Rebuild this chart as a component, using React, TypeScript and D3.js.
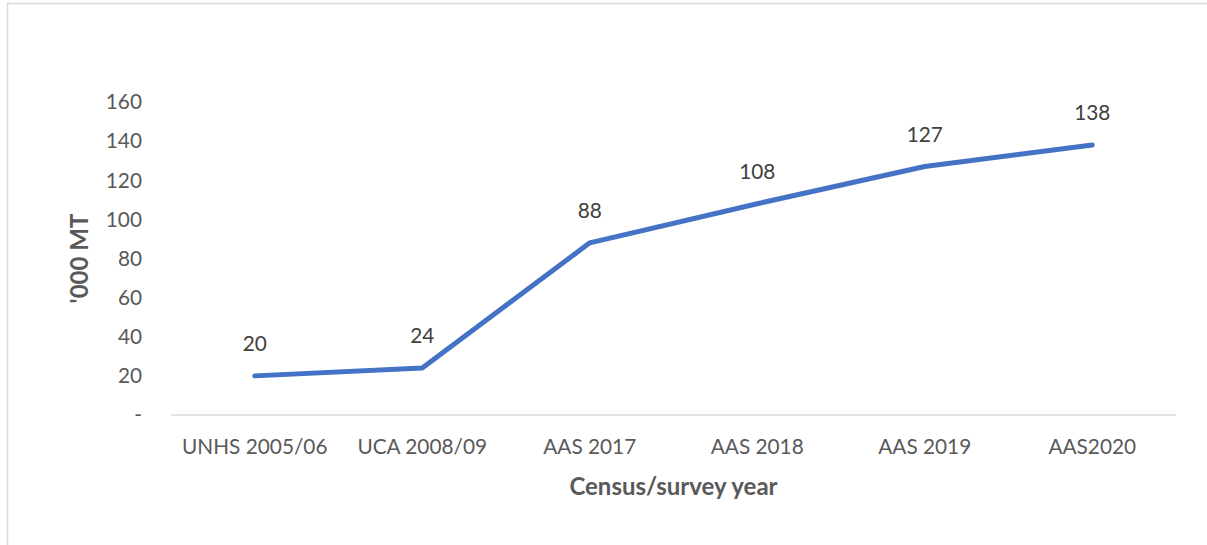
import React, { useEffect, useRef } from 'react';
import * as d3 from 'd3';

const categories = ['UNHS 2005/06', 'UCA 2008/09', 'AAS 2017', 'AAS 2018', 'AAS 2019', 'AAS2020'];
const production = [20, 24, 88, 108, 127, 138];
const yTicks = [0, 20, 40, 60, 80, 100, 120, 140, 160];

const W = 1207;
const H = 545;

const App: React.FC = () => {
  const svgRef = useRef<SVGSVGElement>(null);

  useEffect(() => {
    if (!svgRef.current) return;
    const svg = d3.select(svgRef.current);
    svg.selectAll('*').remove();

    const margin = { top: 102, right: 31, bottom: 130, left: 171 };
    const font = 'Lato, "Open Sans", sans-serif';

    // chart frame
    svg.append('rect')
      .attr('x', 7.5).attr('y', 3.5)
      .attr('width', W + 10).attr('height', H + 10)
      .attr('fill', '#fff')
      .attr('stroke', '#d9d9d9')
      .attr('stroke-width', 1.5);

    const x = d3.scaleBand<string>()
      .domain(categories)
      .range([margin.left, W - margin.right]);

    const y = d3.scaleLinear()
      .domain([0, 160])
      .range([H - margin.bottom, margin.top]);

    // y tick labels
    svg.append('g')
      .selectAll('text')
      .data(yTicks)
      .join('text')
      .attr('x', 142)
      .attr('y', (d) => y(d))
      .attr('dy', '0.35em')
      .attr('text-anchor', 'end')
      .attr('font-family', font)
      .attr('font-size', 20.8)
      .attr('fill', '#595959')
      .text((d) => (d === 0 ? '-' : String(d)));

    // x axis line
    svg.append('line')
      .attr('x1', margin.left).attr('x2', W - margin.right)
      .attr('y1', y(0)).attr('y2', y(0))
      .attr('stroke', '#d9d9d9')
      .attr('stroke-width', 1.5);

    // x tick labels
    svg.append('g')
      .selectAll('text')
      .data(categories)
      .join('text')
      .attr('x', (d) => (x(d) || 0) + x.bandwidth() / 2)
      .attr('y', y(0) + 32)
      .attr('dy', '0.35em')
      .attr('text-anchor', 'middle')
      .attr('font-family', font)
      .attr('font-size', 20.8)
      .attr('fill', '#595959')
      .text((d) => d);

    // axis titles
    svg.append('text')
      .attr('x', (margin.left + W - margin.right) / 2)
      .attr('y', 487)
      .attr('dy', '0.35em')
      .attr('text-anchor', 'middle')
      .attr('font-family', font)
      .attr('font-size', 24)
      .attr('font-weight', 'bold')
      .attr('fill', '#595959')
      .text('Census/survey year');

    svg.append('text')
      .attr('transform', `translate(80,${(y(0) + y(160)) / 2}) rotate(-90)`)
      .attr('dy', '0.35em')
      .attr('text-anchor', 'middle')
      .attr('font-family', font)
      .attr('font-size', 24)
      .attr('font-weight', 'bold')
      .attr('fill', '#595959')
      .text("'000 MT");

    const cx = (i: number) => (x(categories[i]) || 0) + x.bandwidth() / 2;

    const line = d3.line<number>()
      .x((_: number, i: number) => cx(i))
      .y((d: number) => y(d));

    svg.append('path')
      .datum(production)
      .attr('fill', 'none')
      .attr('stroke', '#4472C4')
      .attr('stroke-width', 5)
      .attr('stroke-linejoin', 'round')
      .attr('stroke-linecap', 'round')
      .attr('d', line);

    // data labels
    svg.append('g')
      .selectAll('text')
      .data(production)
      .join('text')
      .attr('x', (_, i) => cx(i))
      .attr('y', (d) => y(d) - 32)
      .attr('dy', '0.35em')
      .attr('text-anchor', 'middle')
      .attr('font-family', font)
      .attr('font-size', 20.8)
      .attr('fill', '#404040')
      .text((d) => String(d));
  }, []);

  return (
    <svg
      ref={svgRef}
      width={W}
      height={H}
      style={{ position: 'absolute', left: 0, top: 0, background: '#fff' }}
    />
  );
};

export default App;
